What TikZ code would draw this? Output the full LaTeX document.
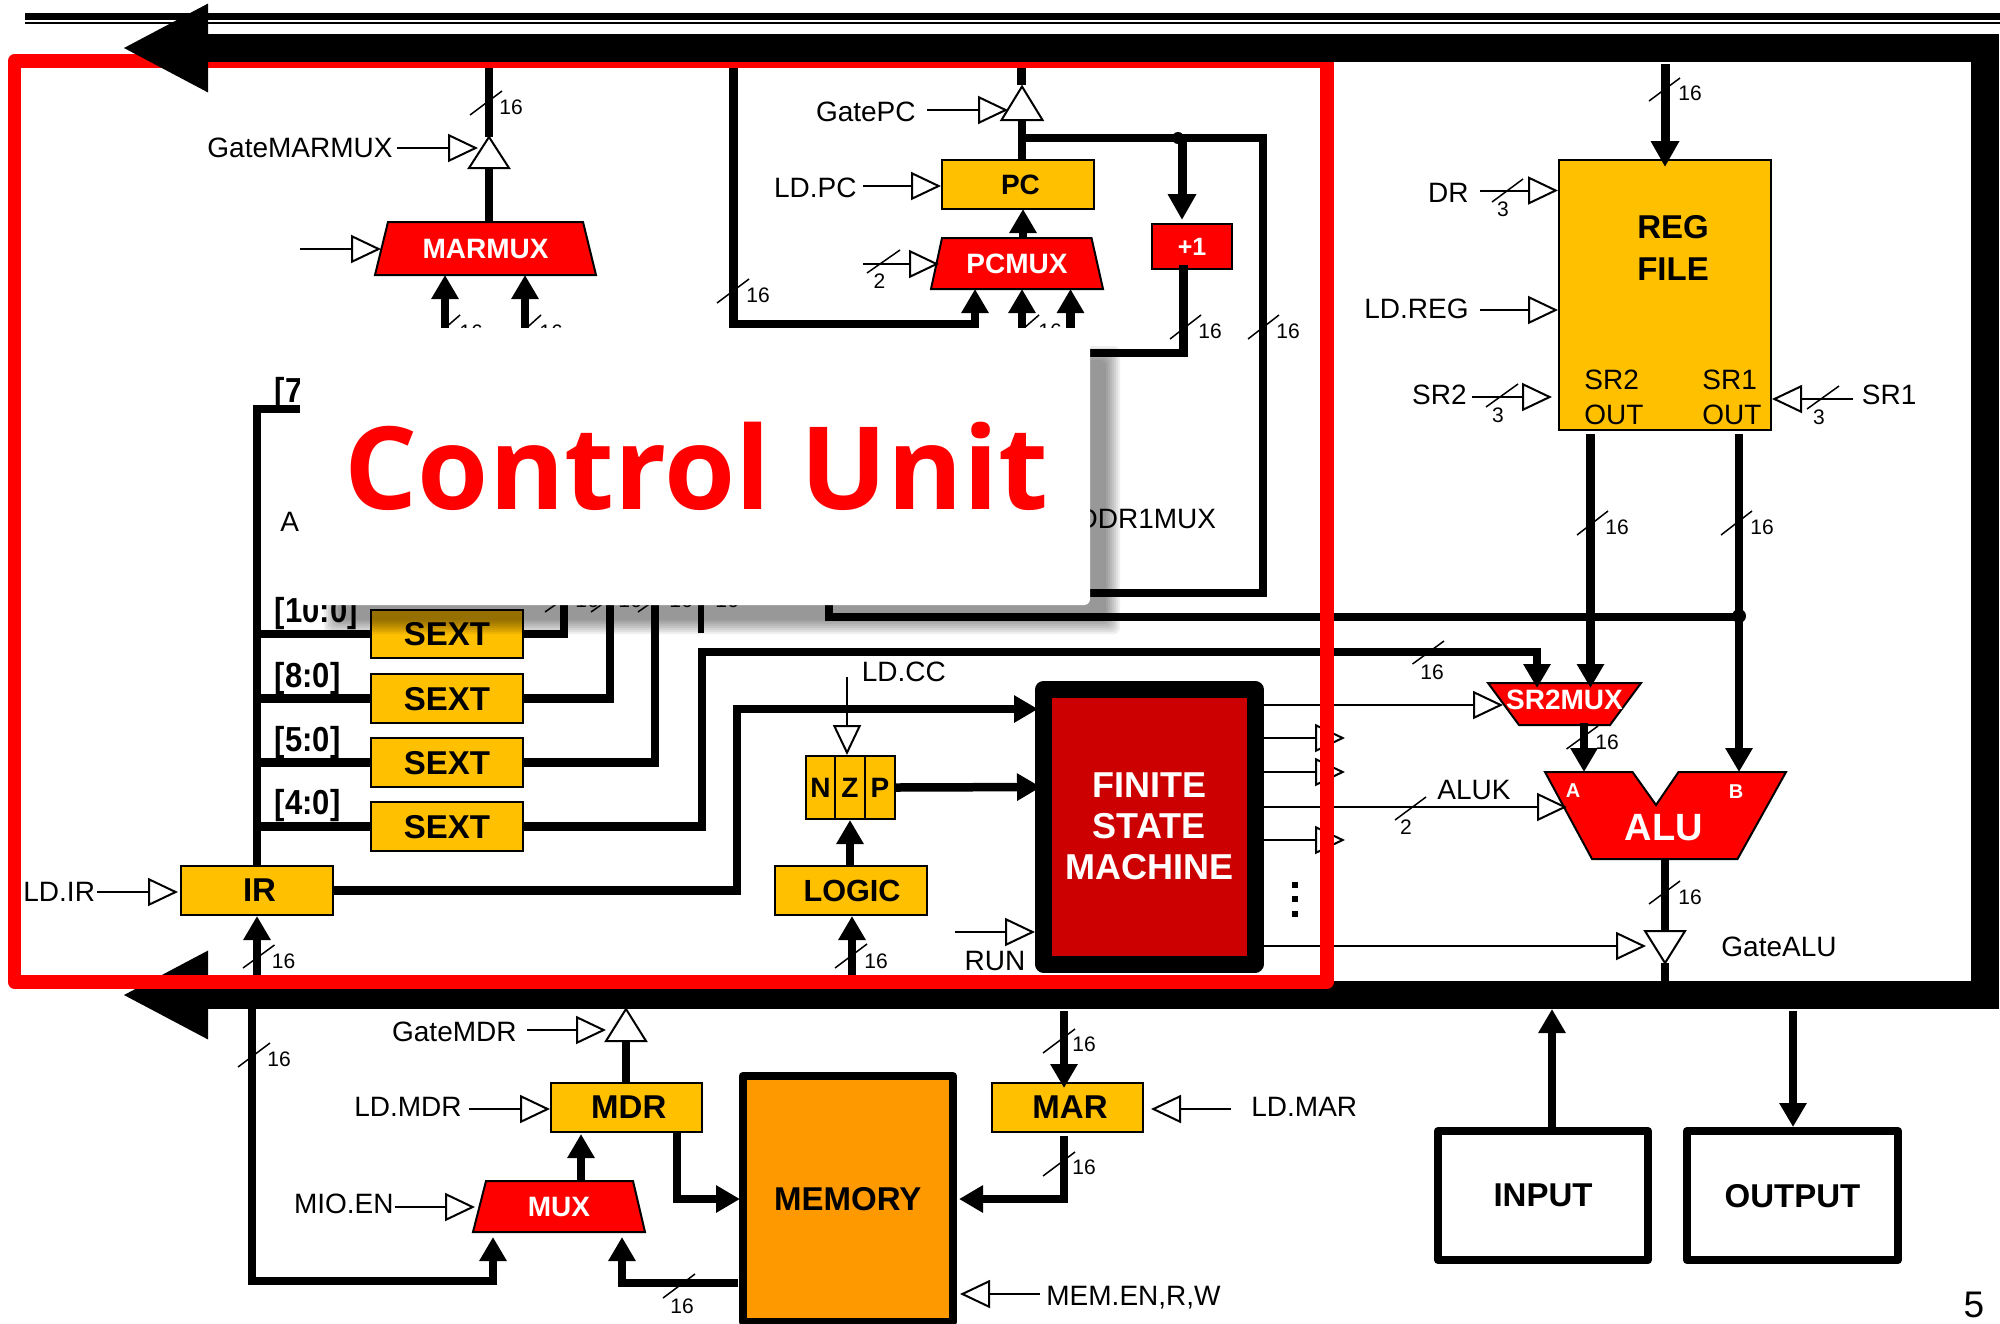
\documentclass[tikz,border=0pt]{standalone}
\usepackage{graphicx}
\usepackage{fontspec}
\setmainfont{Liberation Sans}
\newfontfamily\cufont{Open Sans}
\usetikzlibrary{arrows.meta}
\definecolor{gold}{HTML}{FFC000}
\definecolor{fsmred}{HTML}{CC0000}
\definecolor{memor}{HTML}{FF9900}
\newcounter{tkc}
\newcommand{\fsz}[1]{\fontsize{#1}{#1}\selectfont}
\newcommand{\tallbit}[1]{\scalebox{1}[1.12]{#1}}
\newcommand{\blk}[7]{\node[#2,minimum width={(#5-#3)*0.5pt},minimum height={(#6-#4)*0.5pt}] (#1) at ({(#3+#5)/2},{(#4+#6)/2}) {#7};}
% name, xtl, xtr, xbr, xbl, ytop, ybot, text  -- drawn as polygon plus a named label node
\newcommand{\trp}[8]{\draw[trapline] (#2,#6) -- (#3,#6) -- (#4,#7) -- (#5,#7) -- cycle;
  \node[traptxt,font=\bfseries\fsz{14},minimum width={(#4-#5)*0.5pt},minimum height={(#7-#6)*0.5pt}] (#1) at ({(#4+#5)/2},{(#6+#7)/2}) {#8};}
\newcommand{\trst}[5]{\draw[tristate] (#2-#3,#5) -- (#2,#4) -- (#2+#3,#5) -- cycle;
  \coordinate (#1A) at (#2,#4); \coordinate (#1B) at (#2,#5);}
\newcommand{\slashlab}[7]{\stepcounter{tkc}\draw[slash] (#1,#2) -- (#3,#4);
  \node[nlabel] (tk\arabic{tkc}) at (#5,#6) {#7};}
\newcommand{\sigw}[4]{\node[siglab,anchor=west] (#1) at (#2,#3) {#4};}
\newcommand{\sige}[4]{\node[siglab,anchor=east] (#1) at (#2,#3) {#4};}
\tikzset{
  bus/.style={line width=4.25pt,line cap=butt},
  busarr/.style={line width=4.25pt,-{Triangle[length=12pt,width=13pt]}},
  ctl/.style={line width=1pt,-{Triangle[length=15pt,width=14pt,fill=white]}},
  thinline/.style={line width=1pt},
  slash/.style={line width=0.75pt},
  nlabel/.style={font=\fsz{10.5},inner sep=0pt,text depth=0pt},
  siglab/.style={font=\fsz{14},inner sep=0pt,text depth=0pt},
  goldbox/.style={draw=black,line width=1pt,fill=gold,inner sep=0pt,font=\bfseries\fsz{16.5},text depth=0pt},
  redbox/.style={draw=black,line width=1pt,fill=red,text=white,inner sep=0pt,font=\bfseries\fsz{12.5},text depth=0pt},
  heavybox/.style={draw=black,line width=4pt,line join=round,fill=white,inner sep=0pt,font=\bfseries\fsz{16.5},text depth=0pt},
  trapline/.style={draw=black,line width=1pt,fill=red},
  traptxt/.style={text=white,inner sep=0pt,text depth=0pt},
  tristate/.style={draw=black,line width=1pt,fill=white},
  bitlab/.style={font=\bfseries\fsz{15.5},inner sep=0pt,anchor=base west},
}
\begin{document}
\begin{tikzpicture}[x=0.5pt,y=-0.5pt]
\useasboundingbox (0,0) rectangle (2000,1323);
\clip (0,0) rectangle (2000,1323);

% --- thin double rule at the top, right and lower system bus
\draw[line width=3.5pt] (25,16.5) -- (2000,16.5);
\draw[line width=1pt] (25,23) -- (2000,23);
\coordinate (busNE) at (1985,34);
\coordinate (busSE) at (1985,1009);
\coordinate (busLE) at (1999,995);
\coordinate (busLW) at (122,995);
\draw[line width=14pt] (busNE) -- (busSE);
\draw[line width=14pt,-{Triangle[length=43pt,width=41pt]}] (busLE) -- (busLW);

% --- boxes
\blk{pc}{goldbox,font=\bfseries\fsz{14}}{942}{160}{1094}{209}{\hspace*{2.5pt}PC}
\blk{plus}{redbox}{1152}{224}{1232}{269}{+1}
\blk{sext1}{goldbox}{371}{610}{523}{658}{SEXT}
\blk{sext2}{goldbox}{371}{674}{523}{723}{SEXT}
\blk{sext3}{goldbox}{371}{738}{523}{787}{SEXT}
\blk{sext4}{goldbox}{371}{802}{523}{851}{SEXT}
\blk{ir}{goldbox}{181}{866}{333}{915}{\hspace*{2.5pt}IR}
\blk{logic}{goldbox,font=\bfseries\fsz{15.3}}{775}{866}{927}{915}{\hspace*{1pt}LOGIC}
\blk{nbit}{goldbox,font=\bfseries\fsz{14}}{806}{756}{835}{819}{N}
\blk{zbit}{goldbox,font=\bfseries\fsz{14}}{835}{756}{865}{819}{Z}
\blk{pbit}{goldbox,font=\bfseries\fsz{14}}{865}{756}{895}{819}{P}
\blk{regf}{goldbox}{1559}{160}{1771}{430}{}
\node[font=\bfseries\fontsize{16.5}{21}\selectfont,align=center,inner sep=0pt] (regtxt) at (1673,247.5) {REG\\FILE};
\node[font=\fontsize{14}{17.5}\selectfont,align=left,inner sep=0pt,anchor=west] (sr2txt) at (1584,397) {SR2\\OUT};
\node[font=\fontsize{14}{17.5}\selectfont,align=left,inner sep=0pt,anchor=west] (sr1txt) at (1702,397) {SR1\\OUT};
\blk{mdr}{goldbox}{551}{1083}{701.5}{1132}{\hspace*{2.5pt}MDR}
\blk{mar}{goldbox}{992}{1083}{1143}{1132}{\hspace*{2.5pt}MAR}
\blk{mem}{heavybox,fill=memor}{742.5}{1076}{953}{1322}{MEMORY}
\blk{inp}{heavybox}{1438}{1131}{1648}{1260}{INPUT}
\blk{outp}{heavybox}{1687}{1131}{1898}{1260}{OUTPUT}
\blk{fsm}{draw=black,line width=8.5pt,line join=round,fill=fsmred,text=white,inner sep=0pt,font=\bfseries\fontsize{18}{20.5}\selectfont,align=center}{1043.5}{689.5}{1255}{964}{FINITE\\STATE\\MACHINE}

% --- multiplexers and ALU
\trp{marmux}{388}{583}{596}{375}{222}{275}{MARMUX}
\trp{pcmux}{942}{1091.5}{1103}{931}{238}{289}{PCMUX}
\trp{mux}{486}{633}{645}{473}{1181}{1232}{MUX}
\draw[trapline] (1488,683) -- (1641,683) -- (1610,725) -- (1519,725) -- cycle;
\node[traptxt,font=\bfseries\fsz{14},minimum width=45pt,minimum height=21pt] (sr2mux) at (1564.5,700) {SR2MUX};
\draw[trapline] (1545,772) -- (1632.5,772) -- (1656,805) -- (1678.5,772) -- (1786,772) -- (1737.5,859) -- (1592,859) -- cycle;
\node[traptxt,font=\bfseries\fsz{19}] (alu) at (1664,827) {ALU};
\node[traptxt,font=\bfseries\fsz{10}] (alua) at (1573,791) {A};
\node[traptxt,font=\bfseries\fsz{10}] (alub) at (1736,792) {B};

% --- tri-state gates
\trst{tm}{489}{20}{137}{168}
\trst{tp}{1022}{20.5}{86.5}{120}
\trst{td}{626}{20}{1009}{1041}
\trst{ta}{1665}{20}{963}{931}

% --- MAR mux datapath
\coordinate (busM) at (489,68);
\draw[bus] (busM) -- (tmA);
\draw[bus] (tmB) -- (marmux.north -| tmB);
\coordinate (mi1) at (445,345); \coordinate (mi1t) at (445,275);
\coordinate (mi2) at (525,345); \coordinate (mi2t) at (525,275);
\draw[busarr] (mi1) -- (mi1t);
\draw[busarr] (mi2) -- (mi2t);
\slashlab{470}{115}{502}{91}{511}{107}{16}
\slashlab{428}{343}{460}{315}{471}{332}{16}
\slashlab{510}{343}{541}{315}{551}{332}{16}

% --- PC datapath
\coordinate (busP) at (733.5,66);
\coordinate (pcl) at (733.5,324.5);
\coordinate (pm1) at (975,289);
\draw[busarr] (busP) -- (pcl) -| (pm1);
\coordinate (tpIn) at (1021.5,68);
\coordinate (tpEnd) at (1021.5,85);
\draw[line width=4.5pt] (tpIn) -- (tpEnd);
\draw[bus] (tpB) -- (pc.north -| tpB);
\coordinate (pj) at (1022,138);
\coordinate (pr) at (1263,138);
\coordinate (pbr) at (1263,593);
\coordinate (pbl) at (1085,593);
\draw[bus] (pj) -- (pr) -- (pbr) -- (pbl);
\coordinate (incj) at (1182,138);
\coordinate (inct) at (1182,220);
\draw[line width=4.5pt,-{Triangle[length=13pt,width=13.5pt]}] (incj) -- (inct);
\fill (1178,138) circle[radius=3pt];
\coordinate (incs) at (1183.5,265);
\coordinate (incb) at (1183.5,353);
\coordinate (incl) at (1085,353);
\draw[bus] (incs) -- (incb) -- (incl);
\coordinate (pm2) at (1022,345); \coordinate (pm2t) at (1022,289);
\coordinate (pm3) at (1070.5,345); \coordinate (pm3t) at (1070.5,289);
\draw[busarr] (pm2) -- (pm2t);
\draw[busarr] (pm3) -- (pm3t);
\coordinate (pcup) at (1023,209);
\draw[busarr] (pcmux.north -| pcup) -- (pcup);
\slashlab{717}{303}{749}{279}{758}{295}{16}
\slashlab{1170}{339}{1201}{315}{1210}{331}{16}
\slashlab{1248}{339}{1279}{315}{1288}{331}{16}
\slashlab{1008}{342}{1039}{315}{1050}{331}{16}
\slashlab{867}{273}{900}{250}{879.5}{281}{2}

% --- IR and SEXT
\coordinate (t7) at (300,409);
\coordinate (t7c) at (257,409);
\draw[bus] (t7) -- (t7c) -- (ir.north -| t7c);
\draw[bus] (t7c |- sext1.west) -- (sext1.west);
\draw[bus] (t7c |- sext2.west) -- (sext2.west);
\draw[bus] (t7c |- sext3.west) -- (sext3.west);
\draw[bus] (t7c |- sext4.west) -- (sext4.west);
\node[bitlab] (b7) at (274.5,402) {\tallbit{[7}};
\node[bitlab] (b10) at (274.5,622) {\tallbit{[10:0]}};
\node[bitlab] (b8) at (274.5,687) {\tallbit{[8:0]}};
\node[bitlab] (b5) at (274.5,751) {\tallbit{[5:0]}};
\node[bitlab] (b4) at (274.5,814) {\tallbit{[4:0]}};
\coordinate (v1) at (564,595);
\coordinate (v2) at (610,595);
\coordinate (v3) at (655,595);
\draw[bus] (sext1.east) -| (v1);
\draw[bus] (sext2.east) -| (v2);
\draw[bus] (sext3.east) -| (v3);
\coordinate (v4a) at (701,595);
\coordinate (v4b) at (701,633);
\draw[line width=3pt] (v4a) -- (v4b);
\coordinate (s4a) at (702,652);
\coordinate (s4b) at (1537,652);
\coordinate (s4c) at (1537,688);
\draw[busarr] (sext4.east) -| (s4a) -- (s4b) -- (s4c);
\slashlab{545}{612}{579}{588}{587}{600}{16}
\slashlab{591}{612}{625}{588}{630}{600}{16}
\slashlab{638}{612}{672}{588}{681}{600}{16}
\slashlab{1412.5}{664}{1444}{641}{1432}{672}{16}
\node[nlabel] (lbl4) at (727,600) {16};
\coordinate (sra) at (829,600);
\coordinate (srb) at (829,617);
\coordinate (src) at (1739,617);
\draw[bus] (sra) -- (srb) -- (src);
\fill (1739,616) circle[radius=3.5pt];
\coordinate (irb) at (737,709);
\coordinate (fsmA) at (1038,709);
\draw[busarr] (ir.east) -| (irb) -- (fsmA);
\coordinate (irin) at (257,981);
\coordinate (irt) at (257,916);
\draw[busarr] (irin) -- (irt);
\slashlab{243}{968}{274.5}{945}{283.5}{961}{16}

% --- condition codes
\coordinate (fsmB) at (1041,787);
\draw[busarr] (pbit.east) -- (fsmB);
\draw[busarr] (logic.north -| zbit.south) -- (zbit.south);
\coordinate (lin) at (852,981);
\draw[busarr] (lin) -- (logic.south -| lin);
\slashlab{835}{968}{867}{944}{876}{961}{16}

% --- REG FILE
\coordinate (rfin) at (1665,64);
\coordinate (rfin2) at (1665,167);
\draw[line width=4.5pt,-{Triangle[length=13pt,width=13.5pt]}] (rfin) -- (rfin2);
\slashlab{1649}{101}{1680}{78}{1690}{93}{16}
\coordinate (so2) at (1590.5,434);
\coordinate (so2t) at (1590.5,688);
\draw[busarr] (so2) -- (so2t);
\coordinate (so1) at (1739,434);
\coordinate (so1t) at (1739,772);
\draw[busarr] (so1) -- (so1t);
\slashlab{1577}{535}{1608}{511}{1617}{527}{16}
\slashlab{1721}{535}{1752}{511}{1762}{527}{16}

% --- ALU
\coordinate (smo) at (1584,723);
\coordinate (smt) at (1584,772);
\draw[busarr] (smo) -- (smt);
\slashlab{1566.5}{749}{1598}{726}{1607}{742}{16}
\coordinate (alo) at (1665,859);
\draw[bus] (alo) -- (taB);
\slashlab{1649}{904}{1680}{881}{1690}{897}{16}
\coordinate (tae) at (1665,981);
\draw[bus] (taA) -- (tae);

% --- lower part
\coordinate (mi) at (252,1009);
\coordinate (mib) at (252,1281);
\coordinate (mit) at (493,1237);
\draw[busarr] (mi) -- (mib) -| (mit);
\slashlab{238}{1067}{270}{1043}{279}{1059}{16}
\draw[bus] (tdB) -- (mdr.north -| tdB);
\coordinate (mmt) at (581,1134);
\draw[busarr] (mux.north -| mmt) -- (mmt);
\coordinate (mdb) at (677,1199);
\coordinate (mdt) at (740,1199);
\draw[busarr] (mdr.south -| mdb) -- (mdb) -- (mdt);
\coordinate (mmb) at (622,1283);
\coordinate (mmu) at (622,1237);
\coordinate (mms) at (738,1283);
\draw[busarr] (mms) -- (mmb) -- (mmu);
\slashlab{663}{1298}{695}{1274}{682}{1306}{16}
\coordinate (msb) at (1064,1011);
\coordinate (msm) at (1064,1088);
\draw[busarr] (msb) -- (msm);
\slashlab{1043}{1053}{1075}{1029}{1084}{1044}{16}
\coordinate (mas) at (1064,1136);
\coordinate (mac) at (1064,1199);
\coordinate (mat) at (959,1199);
\draw[busarr] (mas) -- (mac) -- (mat);
\slashlab{1043}{1176}{1075}{1152}{1084}{1167}{16}
\coordinate (iot) at (1552,1009);
\draw[busarr] (inp.north -| iot) -- (iot);
\coordinate (oos) at (1793,1011);
\draw[busarr] (oos) -- (outp.north -| oos);

% --- control signals
\sige{gmarl}{393}{148}{GateMARMUX}
\coordinate (gm0) at (397,148); \coordinate (gm1) at (478,148);
\draw[ctl] (gm0) -- (gm1);
\coordinate (mc0) at (300,249); \coordinate (mc1) at (381,249);
\draw[ctl] (mc0) -- (mc1);
\sige{gpcl}{916}{112}{GatePC}
\coordinate (gp0) at (927,110); \coordinate (gp1) at (1008,110);
\draw[ctl] (gp0) -- (gp1);
\sige{ldpcl}{857}{188}{LD.PC}
\coordinate (lp0) at (863,186);
\draw[ctl] (lp0) -- (pc.west |- lp0);
\coordinate (pc0) at (863,264); \coordinate (pc1) at (939,264);
\draw[ctl] (pc0) -- (pc1);
\sige{drl}{1469}{193}{DR}
\coordinate (dr0) at (1480,190.5);
\draw[ctl] (dr0) -- (regf.west |- dr0);
\slashlab{1492}{202}{1523}{179}{1503}{209}{3}
\sige{ldregl}{1469}{309}{LD.REG}
\coordinate (lr0) at (1480,310);
\draw[ctl] (lr0) -- (regf.west |- lr0);
\sige{sr2l}{1467}{395}{SR2}
\coordinate (s20) at (1472,397); \coordinate (s21) at (1552,397);
\draw[ctl] (s20) -- (s21);
\slashlab{1486}{407}{1518}{384}{1498}{415.5}{3}
\sigw{sr1l}{1861.5}{395}{SR1}
\coordinate (s10) at (1853,399);
\draw[ctl] (s10) -- (regf.east |- s10);
\slashlab{1807}{409}{1839}{386}{1819}{417.5}{3}
\sigw{addr}{280}{522}{A}
\sige{addr1}{1216.5}{519}{ADDR1MUX}
\sigw{ldccl}{861.5}{672}{LD.CC}
\coordinate (lc0) at (847,677);
\draw[ctl] (lc0) -- (zbit.north -| lc0);
\sigw{ldirl}{23}{892}{LD.IR}
\coordinate (li0) at (97,892); \coordinate (li1) at (178,892);
\draw[ctl] (li0) -- (li1);
\node[siglab] (runl) at (995,961) {RUN};
\coordinate (rn0) at (954.5,932);
\draw[ctl] (rn0) -- (fsm.west |- rn0);
\coordinate (f1) at (1263,705); \coordinate (f1t) at (1503,705);
\draw[ctl] (f1) -- (f1t);
\coordinate (f2) at (1263,738); \coordinate (f2t) at (1345,738);
\draw[ctl] (f2) -- (f2t);
\coordinate (f3) at (1263,772); \coordinate (f3t) at (1345,772);
\draw[ctl] (f3) -- (f3t);
\coordinate (f4) at (1263,807); \coordinate (f4t) at (1567,807);
\draw[ctl] (f4) -- (f4t);
\coordinate (f5) at (1263,840); \coordinate (f5t) at (1345,840);
\draw[ctl] (f5) -- (f5t);
\coordinate (f6) at (1263,946); \coordinate (f6t) at (1646,946);
\draw[ctl] (f6) -- (f6t);
\fill (1292,882) rectangle (1298,888);
\fill (1292,896) rectangle (1298,902);
\fill (1292,911) rectangle (1298,917);
\sigw{alukl}{1437}{790}{ALUK}
\slashlab{1395}{820}{1426}{797}{1406}{827}{2}
\sigw{galul}{1721}{947}{GateALU}
\sige{gmdrl}{517}{1032}{GateMDR}
\coordinate (gd0) at (527,1030); \coordinate (gd1) at (606,1030);
\draw[ctl] (gd0) -- (gd1);
\sige{ldmdrl}{462}{1107}{LD.MDR}
\coordinate (ld0) at (469,1109);
\draw[ctl] (ld0) -- (mdr.west |- ld0);
\sige{miol}{394}{1204}{MIO.EN}
\coordinate (mo0) at (395,1207); \coordinate (mo1) at (475,1207);
\draw[ctl] (mo0) -- (mo1);
\sigw{ldmarl}{1251}{1107}{LD.MAR}
\coordinate (lm0) at (1231,1109); \coordinate (lm1) at (1151,1109);
\draw[ctl] (lm0) -- (lm1);
\sigw{meml}{1046}{1296}{MEM.EN,R,W}
\coordinate (me0) at (1040,1294); \coordinate (me1) at (960,1294);
\draw[ctl] (me0) -- (me1);
\node[font=\fsz{18.5},inner sep=0pt,text depth=0pt] (pageno) at (1974,1305) {5};

% --- overlay panel with its soft shadow
\foreach \k in {-7,-5,...,7} {
  \fill[black,opacity=.062,rounded corners=3pt] ({331+\k},{353+\k}) rectangle ({1113-\k},{627-\k});
}
\blk{panel}{fill=white,rounded corners=3pt,inner sep=0pt}{300}{328}{1090}{605}{}
\node[font=\cufont\bfseries\fsz{57.5},text=red,inner sep=0pt,anchor=base] (cutitle) at (696.5,509) {Control Unit};

% --- red frame
\draw[red,line width=6.75pt,line join=round] (14.5,61) rectangle (1327,982);

% --- upper system bus, over the frame
\coordinate (busUE) at (1999,48);
\coordinate (busUW) at (122,48);
\draw[line width=14pt,-{Triangle[length=43pt,width=41pt]}] (busUE) -- (busUW);
\end{tikzpicture}
\end{document}
